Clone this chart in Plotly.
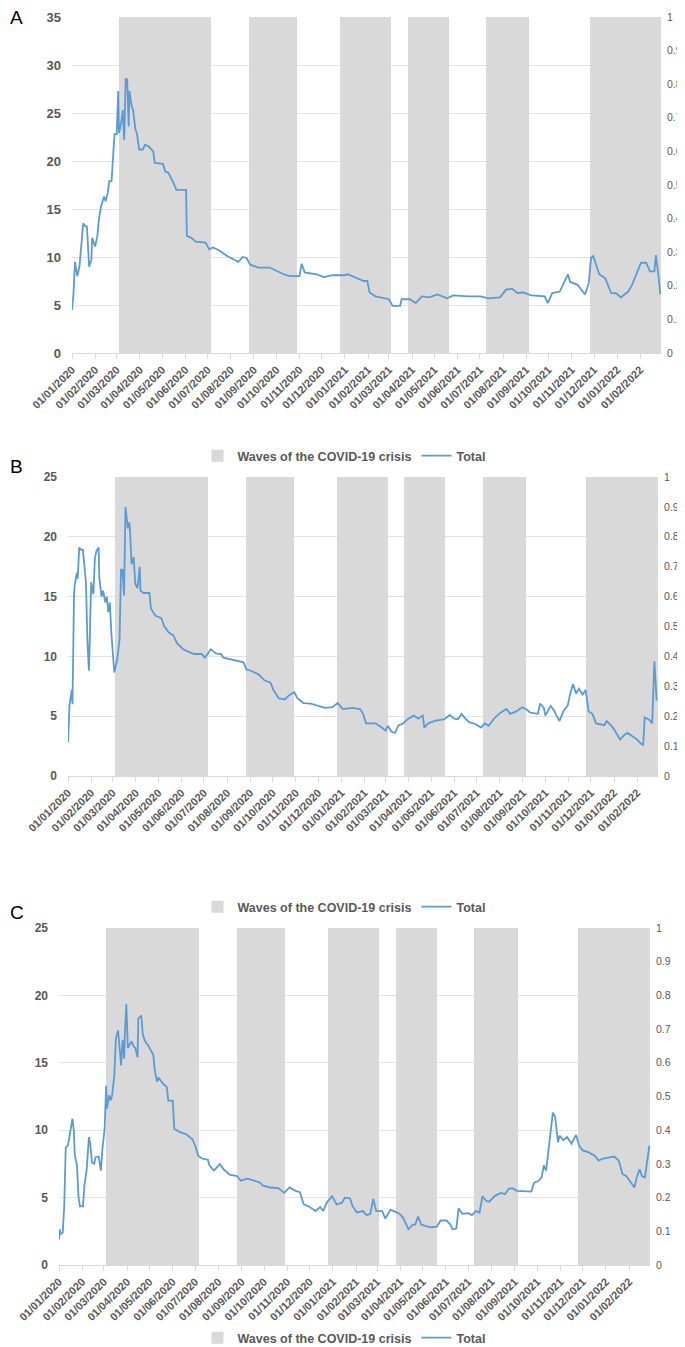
import pandas as pd
import plotly.graph_objects as go

# waves of the COVID-19 crisis (shaded periods)
wave_start = ["2020-03-04", "2020-08-26", "2020-12-26", "2021-03-26", "2021-07-09", "2021-11-25"]
wave_end = ["2020-07-06", "2020-10-29", "2021-03-04", "2021-05-20", "2021-09-05", "2022-03-01"]

# panel A
a_dates = ["2020-01-01", "2020-01-03", "2020-01-05", "2020-01-08", "2020-01-11", "2020-01-14", "2020-01-16",
           "2020-01-19", "2020-01-21", "2020-01-24", "2020-01-27", "2020-01-28", "2020-02-01", "2020-02-04",
           "2020-02-06", "2020-02-09", "2020-02-13", "2020-02-15", "2020-02-18", "2020-02-20", "2020-02-23",
           "2020-02-27", "2020-03-01", "2020-03-03", "2020-03-04", "2020-03-07", "2020-03-09", "2020-03-11",
           "2020-03-13", "2020-03-15", "2020-03-17", "2020-03-18", "2020-03-21", "2020-03-23", "2020-03-26",
           "2020-03-28", "2020-03-31", "2020-04-05", "2020-04-08", "2020-04-13", "2020-04-19", "2020-04-21",
           "2020-05-02", "2020-05-05", "2020-05-09", "2020-05-15", "2020-05-20", "2020-06-02", "2020-06-03",
           "2020-06-09", "2020-06-15", "2020-06-28", "2020-07-03", "2020-07-08", "2020-07-16", "2020-07-27",
           "2020-08-01", "2020-08-11", "2020-08-17", "2020-08-22", "2020-08-27", "2020-09-07", "2020-09-22",
           "2020-09-30", "2020-10-11", "2020-10-19", "2020-11-01", "2020-11-04", "2020-11-08", "2020-11-24",
           "2020-12-04", "2020-12-15", "2020-12-31", "2021-01-05", "2021-01-15", "2021-01-26", "2021-01-31",
           "2021-02-03", "2021-02-11", "2021-02-21", "2021-03-01", "2021-03-06", "2021-03-16", "2021-03-18",
           "2021-03-29", "2021-04-06", "2021-04-14", "2021-04-24", "2021-05-05", "2021-05-18", "2021-05-26",
           "2021-06-16", "2021-07-02", "2021-07-12", "2021-07-28", "2021-08-05", "2021-08-13", "2021-08-20",
           "2021-08-28", "2021-09-08", "2021-09-26", "2021-09-30", "2021-10-06", "2021-10-16", "2021-10-22",
           "2021-10-27", "2021-10-30", "2021-11-09", "2021-11-19", "2021-11-24", "2021-11-27", "2021-11-30",
           "2021-12-08", "2021-12-16", "2021-12-24", "2021-12-31", "2022-01-06", "2022-01-16", "2022-01-21",
           "2022-01-27", "2022-02-02", "2022-02-09", "2022-02-14", "2022-02-20", "2022-02-22", "2022-02-25",
           "2022-02-28"]
a_values = [4.5, 6.2, 9.5, 8.0, 9.0, 11.5, 13.5,
            13.2, 13.2, 9.0, 9.7, 12.0, 11.1, 12.2,
            13.9, 15.3, 16.3, 15.8, 16.7, 17.9, 17.9,
            22.8, 22.8, 27.3, 22.9, 24.0, 25.3, 22.2,
            28.6, 28.5, 23.6, 27.3, 25.7, 25.3, 23.3,
            22.9, 21.2, 21.2, 21.7, 21.5, 21.0, 19.8,
            19.7, 18.9, 18.8, 17.9, 17.0, 17.0, 12.2,
            12.0, 11.6, 11.5, 10.8, 11.0, 10.7, 10.1,
            9.9, 9.5, 10.0, 9.9, 9.2, 8.9, 8.9,
            8.6, 8.2, 8.0, 8.0, 9.3, 8.4, 8.2,
            7.9, 8.1, 8.1, 8.2, 7.9, 7.5, 7.5,
            6.3, 5.9, 5.7, 5.6, 4.9, 4.9, 5.6,
            5.6, 5.2, 5.9, 5.8, 6.1, 5.7, 6.0,
            5.9, 5.9, 5.7, 5.8, 6.6, 6.7, 6.25,
            6.3, 6.0, 5.9, 5.2, 6.25, 6.4, 7.3,
            8.2, 7.4, 7.1, 6.1, 7.3, 9.9, 10.1,
            8.2, 7.8, 6.25, 6.2, 5.8, 6.4, 7.1,
            8.2, 9.4, 9.4, 8.5, 8.5, 10.2, 8.3,
            6.1]

# panel B
b_dates = ["2020-01-01", "2020-01-03", "2020-01-06", "2020-01-07", "2020-01-09", "2020-01-10", "2020-01-13",
           "2020-01-14", "2020-01-16", "2020-01-19", "2020-01-21", "2020-01-23", "2020-01-25", "2020-01-27",
           "2020-01-29", "2020-01-30", "2020-02-01", "2020-02-04", "2020-02-06", "2020-02-08", "2020-02-11",
           "2020-02-12", "2020-02-15", "2020-02-17", "2020-02-20", "2020-02-22", "2020-02-24", "2020-02-26",
           "2020-02-28", "2020-03-03", "2020-03-07", "2020-03-10", "2020-03-12", "2020-03-14", "2020-03-16",
           "2020-03-18", "2020-03-21", "2020-03-23", "2020-03-24", "2020-03-26", "2020-03-29", "2020-03-31",
           "2020-04-03", "2020-04-06", "2020-04-07", "2020-04-11", "2020-04-19", "2020-04-21", "2020-04-27",
           "2020-05-05", "2020-05-09", "2020-05-15", "2020-05-21", "2020-05-26", "2020-06-03", "2020-06-10",
           "2020-06-18", "2020-06-28", "2020-07-02", "2020-07-06", "2020-07-10", "2020-07-17", "2020-07-24",
           "2020-07-27", "2020-08-07", "2020-08-17", "2020-08-23", "2020-08-27", "2020-09-02", "2020-09-12",
           "2020-09-20", "2020-09-28", "2020-10-02", "2020-10-09", "2020-10-17", "2020-10-24", "2020-10-30",
           "2020-11-03", "2020-11-11", "2020-11-21", "2020-11-29", "2020-12-10", "2020-12-20", "2020-12-27",
           "2021-01-03", "2021-01-16", "2021-01-26", "2021-01-30", "2021-02-03", "2021-02-16", "2021-02-24",
           "2021-03-01", "2021-03-04", "2021-03-09", "2021-03-14", "2021-03-18", "2021-03-25", "2021-03-27",
           "2021-04-01", "2021-04-08", "2021-04-14", "2021-04-20", "2021-04-22", "2021-04-27", "2021-05-06",
           "2021-05-14", "2021-05-19", "2021-05-26", "2021-06-01", "2021-06-06", "2021-06-11", "2021-06-15",
           "2021-06-21", "2021-06-29", "2021-07-07", "2021-07-12", "2021-07-17", "2021-07-25", "2021-08-02",
           "2021-08-10", "2021-08-15", "2021-08-23", "2021-08-31", "2021-09-05", "2021-09-11", "2021-09-21",
           "2021-09-24", "2021-09-29", "2021-10-01", "2021-10-08", "2021-10-12", "2021-10-16", "2021-10-20",
           "2021-10-25", "2021-10-31", "2021-11-03", "2021-11-07", "2021-11-11", "2021-11-15", "2021-11-20",
           "2021-11-24", "2021-11-28", "2021-12-03", "2021-12-08", "2021-12-19", "2021-12-22", "2021-12-27",
           "2022-01-01", "2022-01-09", "2022-01-14", "2022-01-19", "2022-01-26", "2022-01-31", "2022-02-06",
           "2022-02-09", "2022-02-11", "2022-02-17", "2022-02-21", "2022-02-24", "2022-02-27"]
b_values = [2.8, 5.9, 7.2, 6.0, 15.0, 16.0, 17.0,
            16.5, 19.1, 18.9, 18.9, 17.2, 16.2, 11.3,
            8.8, 11.0, 16.2, 15.2, 18.2, 18.8, 19.1,
            16.5, 15.0, 15.5, 14.5, 15.0, 13.7, 14.5,
            12.0, 8.65, 9.8, 11.4, 17.3, 17.2, 15.1,
            22.5, 20.7, 21.2, 20.6, 17.7, 18.3, 16.1,
            15.7, 17.5, 15.5, 15.3, 15.3, 14.0, 13.4,
            13.2, 12.5, 12.0, 11.75, 11.1, 10.6, 10.4,
            10.2, 10.2, 9.9, 10.2, 10.6, 10.25, 10.2,
            9.9, 9.75, 9.6, 9.5, 8.9, 8.8, 8.5,
            8.0, 7.8, 7.2, 6.5, 6.4, 6.8, 7.0,
            6.5, 6.1, 6.05, 5.9, 5.7, 5.75, 6.1,
            5.6, 5.7, 5.6, 5.2, 4.4, 4.4, 4.05,
            3.8, 4.2, 3.7, 3.6, 4.2, 4.4, 4.55,
            4.8, 5.05, 4.8, 5.05, 4.05, 4.4, 4.6,
            4.7, 4.75, 5.1, 4.8, 4.75, 5.2, 4.85,
            4.5, 4.35, 4.05, 4.4, 4.2, 4.85, 5.3,
            5.6, 5.2, 5.4, 5.75, 5.6, 5.3, 5.2,
            6.05, 5.7, 5.05, 5.85, 5.55, 5.05, 4.6,
            5.4, 5.9, 6.8, 7.7, 6.9, 7.3, 6.8,
            7.2, 5.4, 5.2, 4.4, 4.25, 4.6, 4.3,
            3.9, 3.05, 3.4, 3.6, 3.3, 3.1, 2.7,
            2.6, 4.9, 4.7, 4.4, 9.6, 6.3]

# panel C
c_dates = ["2020-01-01", "2020-01-02", "2020-01-03", "2020-01-06", "2020-01-08", "2020-01-10", "2020-01-13",
           "2020-01-15", "2020-01-17", "2020-01-19", "2020-01-21", "2020-01-22", "2020-01-25", "2020-01-27",
           "2020-01-29", "2020-02-02", "2020-02-04", "2020-02-07", "2020-02-10", "2020-02-12", "2020-02-14",
           "2020-02-17", "2020-02-19", "2020-02-23", "2020-02-26", "2020-02-28", "2020-03-02", "2020-03-04",
           "2020-03-05", "2020-03-08", "2020-03-10", "2020-03-12", "2020-03-15", "2020-03-17", "2020-03-20",
           "2020-03-23", "2020-03-24", "2020-03-26", "2020-03-28", "2020-03-29", "2020-03-31", "2020-04-02",
           "2020-04-04", "2020-04-07", "2020-04-10", "2020-04-12", "2020-04-15", "2020-04-16", "2020-04-20",
           "2020-04-22", "2020-04-25", "2020-04-29", "2020-05-03", "2020-05-06", "2020-05-08", "2020-05-11",
           "2020-05-13", "2020-05-19", "2020-05-24", "2020-05-26", "2020-06-01", "2020-06-03", "2020-06-11",
           "2020-06-19", "2020-06-27", "2020-07-01", "2020-07-05", "2020-07-10", "2020-07-18", "2020-07-20",
           "2020-07-26", "2020-08-03", "2020-08-08", "2020-08-16", "2020-08-26", "2020-08-31", "2020-09-08",
           "2020-09-16", "2020-09-26", "2020-09-29", "2020-10-09", "2020-10-20", "2020-10-28", "2020-11-04",
           "2020-11-12", "2020-11-18", "2020-11-23", "2020-12-01", "2020-12-09", "2020-12-15", "2020-12-19",
           "2020-12-24", "2020-12-31", "2021-01-06", "2021-01-13", "2021-01-17", "2021-01-24", "2021-01-27",
           "2021-02-02", "2021-02-10", "2021-02-15", "2021-02-20", "2021-02-24", "2021-02-28", "2021-03-08",
           "2021-03-12", "2021-03-19", "2021-03-27", "2021-03-31", "2021-04-05", "2021-04-12", "2021-04-18",
           "2021-04-21", "2021-04-25", "2021-04-29", "2021-05-04", "2021-05-12", "2021-05-20", "2021-05-25",
           "2021-06-02", "2021-06-07", "2021-06-10", "2021-06-15", "2021-06-18", "2021-06-23", "2021-07-01",
           "2021-07-06", "2021-07-11", "2021-07-16", "2021-07-20", "2021-07-25", "2021-07-29", "2021-08-06",
           "2021-08-14", "2021-08-19", "2021-08-24", "2021-08-29", "2021-09-04", "2021-09-11", "2021-09-19",
           "2021-09-23", "2021-09-27", "2021-10-03", "2021-10-07", "2021-10-10", "2021-10-13", "2021-10-16",
           "2021-10-18", "2021-10-22", "2021-10-25", "2021-10-29", "2021-10-31", "2021-11-05", "2021-11-10",
           "2021-11-16", "2021-11-22", "2021-11-26", "2021-12-01", "2021-12-09", "2021-12-17", "2021-12-22",
           "2021-12-28", "2022-01-05", "2022-01-12", "2022-01-18", "2022-01-23", "2022-01-28", "2022-02-03",
           "2022-02-08", "2022-02-11", "2022-02-15", "2022-02-18", "2022-02-22", "2022-02-28"]
c_values = [1.9, 2.65, 2.3, 2.4, 4.4, 8.7, 8.9,
            9.6, 10.1, 10.85, 9.85, 8.2, 7.4, 5.1,
            4.35, 4.35, 5.9, 7.1, 9.5, 8.85, 7.6,
            7.5, 8.0, 8.05, 7.0, 8.6, 10.1, 13.3,
            11.6, 12.6, 12.2, 12.6, 14.1, 16.8, 17.4,
            15.8, 14.8, 16.7, 15.3, 17.1, 19.35, 16.1,
            16.3, 16.6, 16.2, 16.1, 15.4, 18.3, 18.5,
            17.1, 16.6, 16.3, 15.9, 15.6, 14.45, 13.6,
            13.9, 13.45, 13.2, 12.2, 12.2, 10.1, 9.85,
            9.7, 9.35, 8.85, 8.1, 7.9, 7.8, 7.4,
            7.0, 7.5, 7.1, 6.7, 6.6, 6.25, 6.4,
            6.3, 6.1, 5.9, 5.75, 5.7, 5.35, 5.75,
            5.5, 5.4, 4.5, 4.3, 4.0, 4.3, 4.0,
            4.65, 5.1, 4.5, 4.6, 5.0, 4.95, 4.4,
            3.9, 4.0, 3.7, 3.8, 4.9, 4.0, 4.0,
            3.45, 4.1, 3.9, 3.8, 3.5, 2.65, 3.0,
            3.0, 3.6, 3.0, 2.9, 2.8, 2.85, 3.3,
            3.3, 3.0, 2.65, 2.7, 4.2, 3.8, 3.85,
            3.7, 4.0, 3.9, 5.1, 4.75, 4.7, 5.15,
            5.35, 5.25, 5.65, 5.7, 5.5, 5.5, 5.5,
            5.45, 6.1, 6.25, 6.5, 7.4, 7.0, 8.35,
            9.1, 11.3, 11.0, 9.1, 9.6, 9.25, 9.5,
            9.0, 9.65, 8.85, 8.5, 8.35, 8.1, 7.75,
            7.9, 8.0, 8.05, 7.75, 6.75, 6.6, 6.1,
            5.75, 6.5, 7.1, 6.6, 6.5, 8.85]

# page positions (pixels in the 685x1347 window)
panels = [
    dict(label="A", dates=a_dates, values=a_values, ymax=35, x0=72, x1=661, top=17, bottom=353, legend_y=456, lab_y=17, tick_size=13),
    dict(label="B", dates=b_dates, values=b_values, ymax=25, x0=68, x1=658, top=477, bottom=776, legend_y=907, lab_y=466, tick_size=12),
    dict(label="C", dates=c_dates, values=c_values, ymax=25, x0=59, x1=650, top=928, bottom=1265, legend_y=1338, lab_y=912, tick_size=12),
]

# the page body has an 8px margin, so the figure is a bit smaller than the window
OFF = 8
W, H = 685 - OFF, 1347 - OFF
grey = "#595959"
font_family = "Liberation Sans, Arial, sans-serif"


def px_x(v):
    return (v - OFF) / W


def px_y(v):
    return (H - (v - OFF)) / H


ws = pd.to_datetime(wave_start)
we = pd.to_datetime(wave_end)
wave_mid = ws + (we - ws) / 2
wave_width = [(e - s).total_seconds() * 1000 for s, e in zip(ws, we)]

fig = go.Figure()
layout = {}
annotations = []

for i, p in enumerate(panels):
    n = i + 1
    xname = "x" if n == 1 else "x%d" % n
    ybar = "y" if n == 1 else "y%d" % (2 * n - 1)
    yline = "y%d" % (2 * n)
    leg = "legend" if n == 1 else "legend%d" % n

    fig.add_trace(go.Bar(
        x=wave_mid, y=[1] * len(wave_mid), width=wave_width,
        marker=dict(color="#d9d9d9", line=dict(width=0)),
        name="Waves of the COVID-19 crisis",
        xaxis=xname, yaxis=ybar, legend=leg, hoverinfo="skip"))
    fig.add_trace(go.Scatter(
        x=pd.to_datetime(p["dates"]), y=p["values"], mode="lines",
        line=dict(color="#5b9bd5", width=1.8),
        name="Total", xaxis=xname, yaxis=yline, legend=leg))

    xd = [px_x(p["x0"]), px_x(p["x1"])]
    yd = [px_y(p["bottom"]), px_y(p["top"])]
    xkey = "xaxis" if n == 1 else "xaxis%d" % n
    ybkey = "yaxis" if n == 1 else "yaxis%d" % (2 * n - 1)
    ylkey = "yaxis%d" % (2 * n)

    layout[xkey] = dict(
        domain=xd, anchor=ybar, type="date", automargin=False,
        range=["2020-01-01", "2022-02-28 20:00"],
        tick0="2020-01-01", dtick="M1", tickformat="%d/%m/%Y", tickangle=-45,
        ticks="outside", ticklen=5, tickcolor="#d9d9d9",
        showline=True, linecolor="#d9d9d9", linewidth=1, showgrid=False,
        tickfont=dict(family=font_family, size=11, color=grey, weight="bold"))
    layout[ybkey] = dict(
        domain=yd, anchor=xname, side="right", range=[0, 1], dtick=0.1,
        automargin=False,
        showgrid=False, zeroline=False, showline=False, ticks="",
        ticklabelstandoff=5,
        tickfont=dict(family=font_family, size=10.5, color=grey))
    layout[ylkey] = dict(
        domain=yd, anchor=xname, overlaying=ybar, side="left",
        automargin=False,
        range=[0, p["ymax"]], dtick=5, showgrid=True, gridcolor="#e3e3e3",
        gridwidth=1, zeroline=False, showline=False, ticks="",
        ticklabelstandoff=10,
        tickfont=dict(family=font_family, size=p["tick_size"], color=grey, weight="bold"))
    layout[leg] = dict(
        orientation="h", x=px_x(344), xanchor="center",
        y=px_y(p["legend_y"]), yanchor="middle",
        font=dict(family=font_family, size=12.5, color=grey, weight="bold"),
        bgcolor="rgba(0,0,0,0)", itemwidth=30, tracegroupgap=0)

    annotations.append(dict(
        text=p["label"], x=px_x(OFF), y=px_y(p["lab_y"]), xref="paper", yref="paper",
        xanchor="left", yanchor="middle", showarrow=False,
        font=dict(family=font_family, size=19, color="black")))

fig.update_layout(
    width=W, height=H,
    margin=dict(l=0, r=0, t=0, b=0, autoexpand=False),
    paper_bgcolor="white", plot_bgcolor="white",
    bargap=0, annotations=annotations,
    **layout)

fig.write_html("out.html")
